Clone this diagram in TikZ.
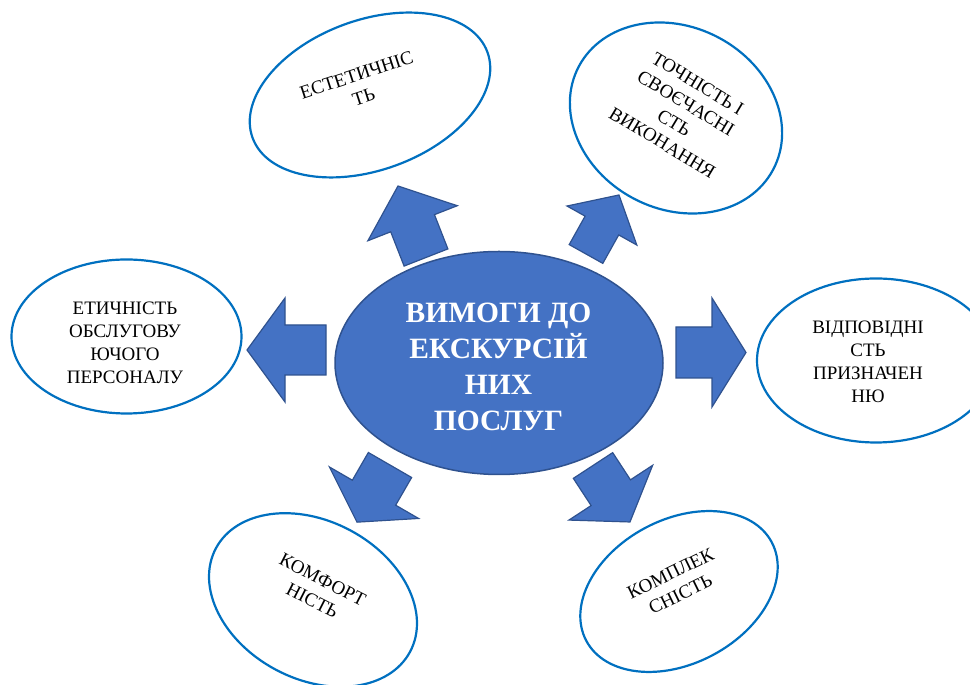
\documentclass[tikz,border=0pt]{standalone}
\usepackage{fontspec}
\setmainfont{Liberation Serif}
\usetikzlibrary{shapes.geometric}
\definecolor{fillblue}{HTML}{4472C4}
\definecolor{edgeblue}{HTML}{2F528F}
\definecolor{ringblue}{HTML}{0070C0}
\tikzset{
  ring/.style={shape=ellipse, draw=ringblue, line width=2.2pt, fill=white, inner sep=0pt},
  hub/.style={shape=ellipse, draw=edgeblue, line width=1.5pt, fill=fillblue, inner sep=0pt,
    minimum width=328pt, minimum height=223pt},
  ringtext/.style={align=center, inner sep=0pt, text=black,
    font=\fontsize{19}{23}\selectfont},
  hubtext/.style={align=center, inner sep=0pt, text=white,
    font=\fontsize{29.5}{36}\selectfont\bfseries},
  arrowsty/.style={draw=edgeblue, line width=1.2pt, fill=fillblue, line join=miter},
  pics/barrow/.style n args={4}{code={
    \draw[arrowsty] (0,{-#2/2}) -- ({#1-#4},{-#2/2}) -- ({#1-#4},{-#3/2}) -- (#1,0)
      -- ({#1-#4},{#3/2}) -- ({#1-#4},{#2/2}) -- (0,{#2/2}) -- cycle;
  }}
}
\begin{document}
\begin{tikzpicture}[x=1pt,y=1pt]
\useasboundingbox (0,0) rectangle (970,685);
\clip (0,0) rectangle (970,685);

% outer ellipses
\node[ring, minimum width=250pt, minimum height=150pt, rotate=20] (est) at (370,590) {};
\node[ring, minimum width=220pt, minimum height=182pt, rotate=-28] (toch) at (676,567) {};
\node[ring, minimum width=230pt, minimum height=154pt] (etych) at (126.5,348.5) {};
\node[ring, minimum width=238pt, minimum height=164pt] (vidp) at (876,324.5) {};
\node[ring, minimum width=220pt, minimum height=158pt, rotate=-28] (komf) at (313,85) {};
\node[ring, minimum width=210pt, minimum height=144pt, rotate=28] (kompl) at (679,93.5) {};

% texts of outer ellipses
\node[ringtext, rotate=18] (t-est) at (360,599) {ЕСТЕТИЧНІС\\ТЬ};
\node[ringtext, rotate=-31] (t-toch) at (680,572) {ТОЧНІСТЬ І\\СВОЄЧАСНІ\\СТЬ\\ВИКОНАННЯ};
\node[ringtext] (t-etych) at (125,342.5) {ЕТИЧНІСТЬ\\ОБСЛУГОВУ\\ЮЧОГО\\ПЕРСОНАЛУ};
\node[ringtext] (t-vidp) at (868,323.5) {ВІДПОВІДНІ\\СТЬ\\ПРИЗНАЧЕН\\НЮ};
\node[ringtext, rotate=-27] (t-komf) at (317.5,95) {КОМФОРТ\\НІСТЬ};
\node[ringtext, rotate=26] (t-kompl) at (675.5,101) {КОМПЛЕК\\СНІСТЬ};

% block arrows
\pic[rotate=111.4] at (426,427.5) {barrow={76.8}{47}{96}{40}};
\pic[rotate=60.8] at (586,431) {barrow={67.6}{38.5}{80}{35}};
\pic[rotate=180] at (326,335) {barrow={79}{50}{104}{38}};
\pic[rotate=0] at (676,332.5) {barrow={70}{51}{109}{34}};
\pic[rotate=240] at (390,220) {barrow={66}{50}{103}{34}};
\pic[rotate=-56.8] at (593,219.5) {barrow={67.5}{47}{100}{35}};

% central ellipse
\node[hub] (hub) at (499,322) {};
\node[hubtext] (t-hub) at (498.5,318) {ВИМОГИ ДО\\ЕКСКУРСІЙ\\НИХ\\ПОСЛУГ};
\end{tikzpicture}
\end{document}
